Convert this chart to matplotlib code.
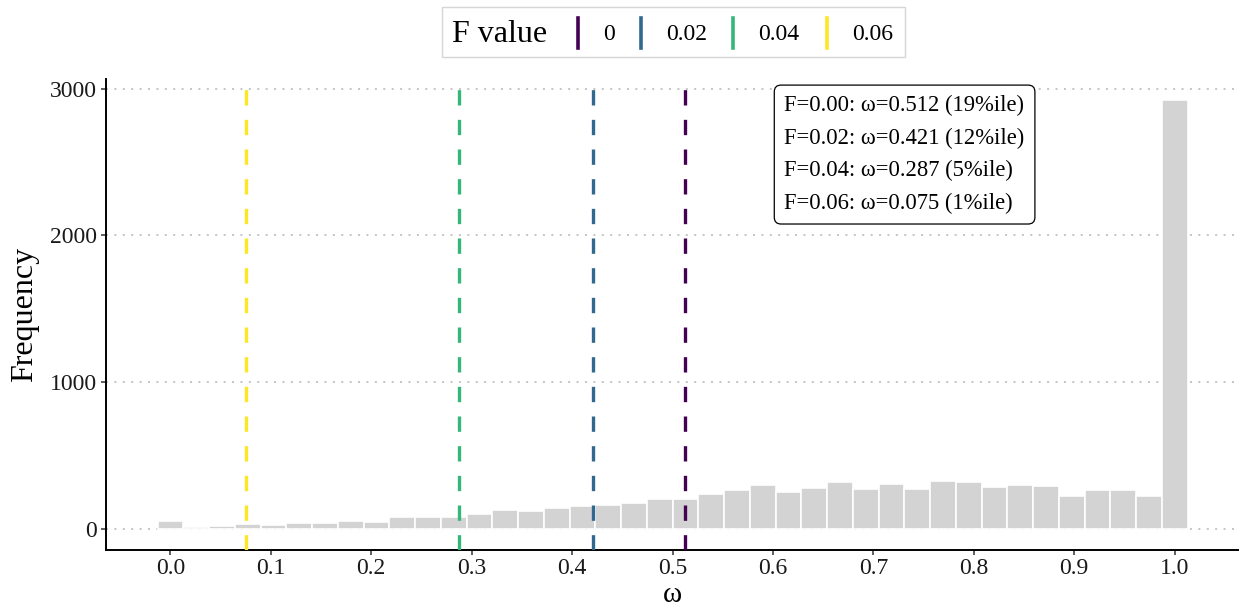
import numpy as np
import matplotlib
matplotlib.use("Agg")
import matplotlib.pyplot as plt
from matplotlib.lines import Line2D
from matplotlib.patches import Rectangle

plt.rcParams['font.family'] = ['Liberation Serif', 'DejaVu Serif']

# histogram of omega, 40 bins over [0, 1]
bin_centers = np.linspace(0, 1, 40)
counts = [55, 12, 20, 30, 22, 38, 35, 55, 45, 77,
          77, 77, 102, 130, 123, 139, 155, 164, 175, 205,
          205, 236, 261, 300, 252, 275, 318, 268, 305, 270,
          327, 318, 282, 298, 291, 223, 266, 266, 220, 2920]

# thresholds for each F value
f_values = [0.00, 0.02, 0.04, 0.06]
f_labels = ["0", "0.02", "0.04", "0.06"]
omega_cut = [0.512, 0.421, 0.287, 0.075]
pctile = [19, 12, 5, 1]
f_colors = ["#440154", "#31688E", "#35B779", "#FDE725"]

W, H = 1239, 607
fig = plt.figure(figsize=(W / 100, H / 100), dpi=100)
ax = fig.add_axes([106 / W, 57 / H, (W - 106) / W, (550 - 79) / H])

width = bin_centers[1] - bin_centers[0]
ax.bar(bin_centers, counts, width=width, color="#d3d3d3",
       edgecolor="white", linewidth=1.2, zorder=2)

for x, c in zip(omega_cut, f_colors):
    ax.axvline(x, color=c, lw=2.4, dashes=(4.6, 4.3), zorder=3)

edge_lo = bin_centers[0] - width / 2
edge_hi = bin_centers[-1] + width / 2
pad_x = 0.05 * (edge_hi - edge_lo)
ax.set_xlim(edge_lo - pad_x, edge_hi + pad_x)
top = max(counts)
ax.set_ylim(-0.05 * top, top * 1.05)

ax.set_xticks(np.arange(0, 1.01, 0.1))
ax.set_xticklabels([f"{t:.1f}" for t in np.arange(0, 1.01, 0.1)])
ax.set_yticks([0, 1000, 2000, 3000])

ax.yaxis.grid(True, linestyle=(0, (1.3, 4.2)), color="#b5b5b5", lw=1.1)
ax.set_axisbelow(True)

for s in ["top", "right"]:
    ax.spines[s].set_visible(False)
for s in ["left", "bottom"]:
    ax.spines[s].set_linewidth(1.4)
    ax.spines[s].set_color("black")
ax.tick_params(axis="both", length=3.6, width=1.1, color="#333333",
               labelsize=17, labelcolor="#1a1a1a", pad=3)
ax.tick_params(axis="x", pad=2)

ax.set_xlabel("$\\mathregular{ω}$", fontsize=21, va="baseline")
ax.xaxis.set_label_coords(0.5, -0.11)
ax.set_ylabel("Frequency", fontsize=23, labelpad=8)

# summary box
lines = [f"F={f:.2f}: ω={w:.3f} ({p}%ile)"
         for f, w, p in zip(f_values, omega_cut, pctile)]
ax.text(0.6115, 2955, "\n".join(lines), ha="left", va="top", fontsize=16.3,
        linespacing=1.7, zorder=5,
        bbox=dict(boxstyle="round,pad=0.45,rounding_size=0.3",
                  fc="white", ec="black", lw=0.9))

# legend strip above the panel
fig.patches.append(Rectangle((442 / W, 1 - 57 / H), (905 - 442) / W, 50 / H,
                             transform=fig.transFigure, fc="white",
                             ec="#d6d6d6", lw=1.0))
fig.text(452 / W, 1 - 34 / H, "F value", fontsize=23, ha="left",
         va="center")
key_x = [578, 641, 733, 827]
for kx, lab, c in zip(key_x, f_labels, f_colors):
    fig.lines.append(Line2D([kx / W, kx / W], [1 - 18 / H, 1 - 48 / H],
                            transform=fig.transFigure, color=c, lw=2.6))
    fig.text((kx + 25) / W, 1 - 34 / H, lab, fontsize=17, ha="left",
             va="center")

fig.savefig("out.png", dpi=100)
